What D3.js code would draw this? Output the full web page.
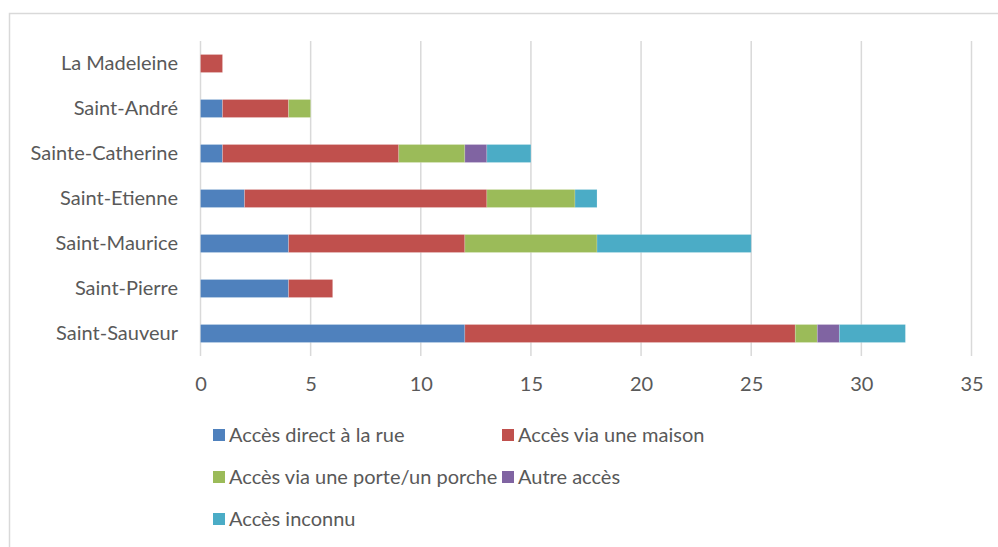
<!DOCTYPE html>
<html>
<head>
<meta charset="utf-8">
<script src="https://cdn.jsdelivr.net/npm/d3@7"></script>
<style>
  html, body { margin: 0; padding: 0; background: #fff; }
  svg { display: block; }
  text { font-family: Lato, "Open Sans", sans-serif; fill: #595959; }
</style>
</head>
<body>
<svg id="chart" width="998" height="547"></svg>
<script>
// Paroisses, de haut en bas
const categories = ["La Madeleine", "Saint-André", "Sainte-Catherine", "Saint-Etienne", "Saint-Maurice", "Saint-Pierre", "Saint-Sauveur"];

// Types d'accès (séries empilées)
const seriesNames = ["Accès direct à la rue", "Accès via une maison", "Accès via une porte/un porche", "Autre accès", "Accès inconnu"];
const seriesColors = ["#4f81bd", "#c0504d", "#9bbb59", "#8064a2", "#4bacc6"];

// Valeurs par série, dans l'ordre des paroisses
const direct   = [0, 1, 1, 2, 4, 4, 12];
const maison   = [1, 3, 8, 11, 8, 2, 15];
const porte    = [0, 1, 3, 4, 6, 0, 1];
const autre    = [0, 0, 1, 0, 0, 0, 1];
const inconnu  = [0, 0, 2, 1, 7, 0, 3];

const xTicks = [0, 5, 10, 15, 20, 25, 30, 35];

const table = categories.map((c, i) => ({
  cat: c,
  [seriesNames[0]]: direct[i],
  [seriesNames[1]]: maison[i],
  [seriesNames[2]]: porte[i],
  [seriesNames[3]]: autre[i],
  [seriesNames[4]]: inconnu[i]
}));

const FONT = "Lato, 'Open Sans', sans-serif";
const FONT_SIZE = "20px";

const svg = d3.select("#chart");

// Cadre de la zone du graphique
svg.append("rect")
  .attr("x", 9.5).attr("y", 13.5)
  .attr("width", 1000).attr("height", 600)
  .attr("fill", "none").attr("stroke", "#d9d9d9").attr("stroke-width", 1.5);

const x = d3.scaleLinear().domain([0, 35]).range([200.5, 971.5]);
const y = d3.scaleBand().domain(categories).range([41, 356]).paddingInner(0.6).paddingOuter(0.3);

// Quadrillage vertical
const grid = svg.append("g");
grid.selectAll("line").data(xTicks).join("line")
  .attr("x1", d => x(d)).attr("x2", d => x(d))
  .attr("y1", 41).attr("y2", 356)
  .attr("stroke", "#d9d9d9").attr("stroke-width", 1.5);

// Barres empilées
const stack = d3.stack().keys(seriesNames)(table);
svg.append("g").selectAll("g").data(stack).join("g")
  .attr("fill", (d, i) => seriesColors[i])
  .selectAll("rect").data(d => d.filter(s => s[1] - s[0] > 0)).join("rect")
  .attr("x", d => x(d[0]))
  .attr("width", d => x(d[1]) - x(d[0]))
  .attr("y", d => y(d.data.cat))
  .attr("height", y.bandwidth())
  .attr("stroke", "rgba(255,255,255,0.25)")
  .attr("stroke-width", 0.75);

// Axe horizontal (libellés seulement)
const xAxis = svg.append("g")
  .attr("transform", "translate(0,373)")
  .call(d3.axisBottom(x).tickValues(xTicks).tickSize(0).tickPadding(0).tickFormat(d3.format("d")));
xAxis.select(".domain").remove();
xAxis.selectAll("text")
  .attr("dy", "0.9em")
  .style("font-size", FONT_SIZE)
  .style("fill", "#595959")
  .style("font-family", FONT);

// Axe vertical (libellés des paroisses)
const yAxis = svg.append("g")
  .attr("transform", "translate(178,0)")
  .call(d3.axisLeft(y).tickSize(0).tickPadding(0));
yAxis.select(".domain").remove();
yAxis.selectAll("text")
  .style("font-size", FONT_SIZE)
  .style("fill", "#595959")
  .style("font-family", FONT);

// Légende
const legendPos = [
  [213, 435], [502, 435],
  [213, 477], [502, 477],
  [213, 519]
];
const legend = svg.append("g").selectAll("g").data(seriesNames).join("g")
  .attr("transform", (d, i) => `translate(${legendPos[i][0]},${legendPos[i][1]})`);
legend.append("rect")
  .attr("x", 0).attr("y", -6).attr("width", 12).attr("height", 12)
  .attr("fill", (d, i) => seriesColors[i]);
legend.append("text")
  .attr("x", 16).attr("y", 0).attr("dy", "0.35em")
  .style("font-size", FONT_SIZE)
  .text(d => d);
</script>
</body>
</html>
